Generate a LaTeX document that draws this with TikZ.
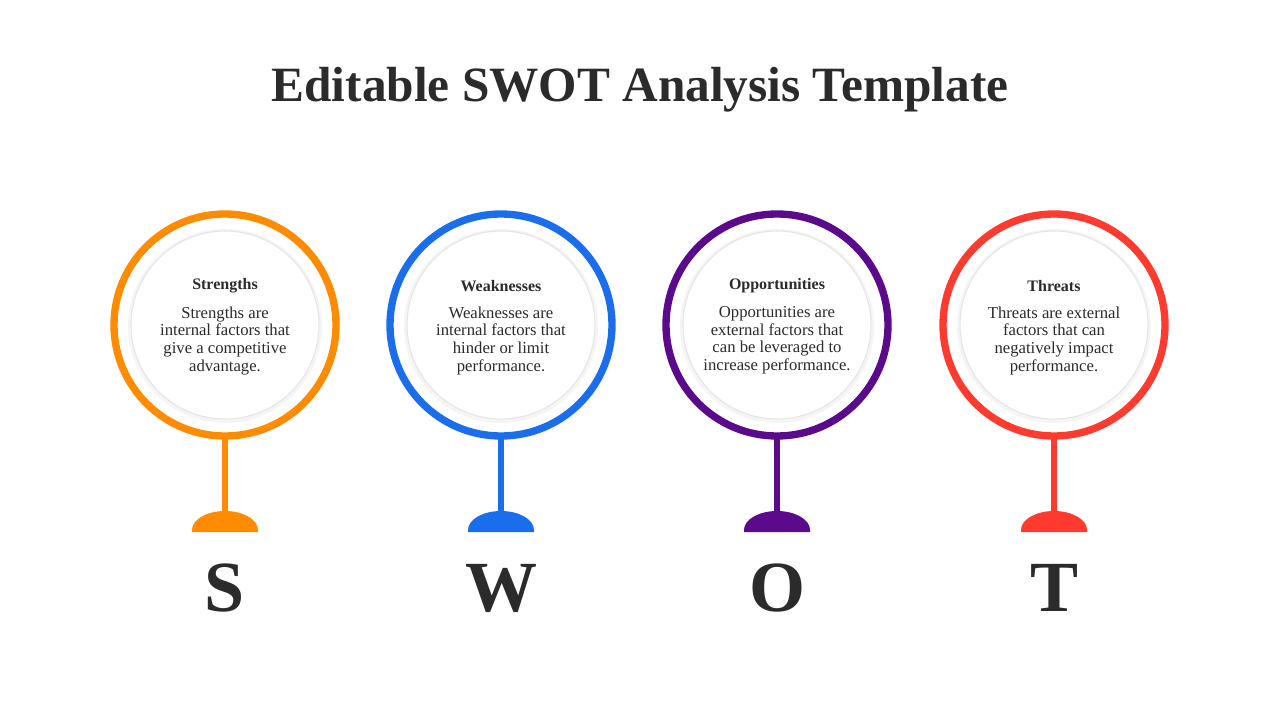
\documentclass[tikz,border=0pt]{standalone}
\usepackage{fontspec}
\setmainfont{Liberation Serif}
\definecolor{cS}{HTML}{FF8C00}
\definecolor{cW}{HTML}{1A6EEB}
\definecolor{cO}{HTML}{5A0A8A}
\definecolor{cT}{HTML}{FF3B30}
\definecolor{txt}{HTML}{2B2B2B}
\begin{document}
\begin{tikzpicture}[x=0.75pt,y=-0.75pt,
  ring/.style={line width=5.5pt},
  head/.style={font=\bfseries\fontsize{12}{14}\selectfont,text=txt},
  body/.style={font=\fontsize{12.5}{13.2}\selectfont,text=txt,align=center},
  letter/.style={font=\bfseries\fontsize{54}{60}\selectfont,text=txt}]
\useasboundingbox[fill=white] (0,0) rectangle (1280,720);
\node[font=\bfseries\fontsize{37}{40}\selectfont,text=txt] (title) at (640,90) {Editable SWOT Analysis Template};
\foreach \x/\c/\h/\b/\L/\n in {
 225/cS/Strengths/{Strengths are\\internal factors that\\give a competitive\\advantage.}/S/s,
 501/cW/Weaknesses/{Weaknesses are\\internal factors that\\hinder or limit\\performance.}/W/w,
 777/cO/Opportunities/{Opportunities are\\external factors that\\can be leveraged to\\increase performance.}/O/o,
 1054/cT/Threats/{Threats are external\\factors that can\\negatively impact\\performance.}/T/t}{
  \fill[black!4] (\x,326) circle[radius=97];
  \fill[white,draw=black!10,line width=0.8pt] (\x,325) circle[radius=94];
  \draw[ring,draw=\c] (\x,325) circle[radius=111];
  \draw[\c,line width=4.5pt] (\x,437) -- (\x,514);
  \fill[\c] (\x-33,532) -- (\x-33,530) arc[start angle=180,end angle=360,x radius=33,y radius=19] -- (\x+33,532) -- cycle;
  \node[head] (h\n) at (\x,286) {\h};
  \node[body,anchor=north] (b\n) at (\x,302) {\b};
  \node[letter] (l\n) at (\x,588) {\L};
}
\end{tikzpicture}
\end{document}
